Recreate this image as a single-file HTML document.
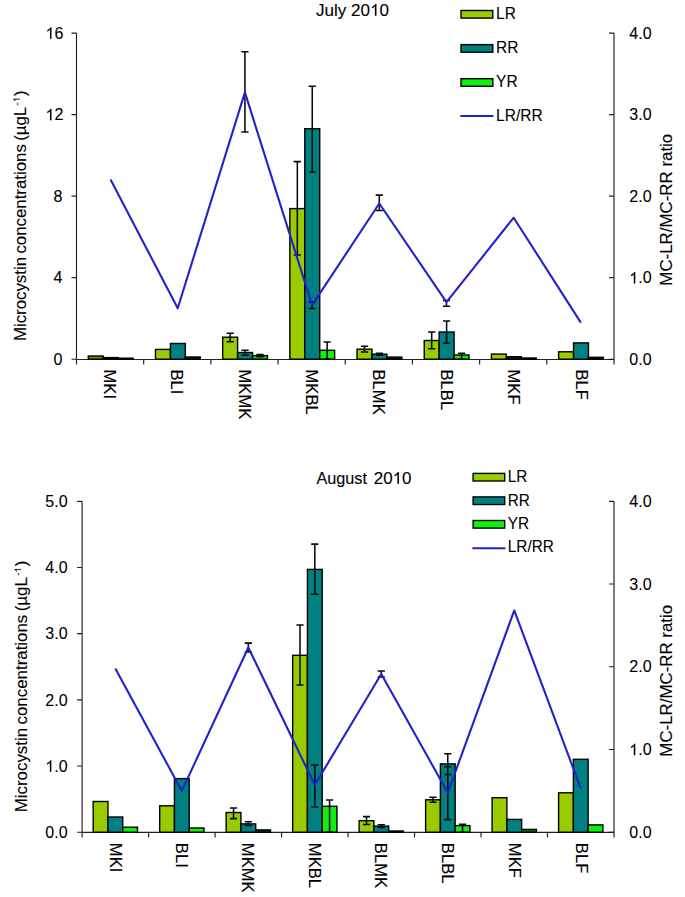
<!DOCTYPE html>
<html><head><meta charset="utf-8"><style>
html,body{margin:0;padding:0;background:#fff;}
svg{display:block;}
text{font-family:"Liberation Sans", sans-serif;fill:#000;stroke:#000;stroke-width:0.1px;}
.h{fill:none;stroke:none;}
.one{fill:#000;stroke:#000;}
</style></head><body>
<svg width="685" height="897" viewBox="0 0 685 897">
<rect width="685" height="897" fill="#fff"/>
<path d="M76.5 33.1V364.5M614 33.1V364.5M76.5 359.5H614" stroke="#222" stroke-width="1.15" fill="none"/>
<g transform="translate(62.3,364.9)"><text id="t0" x="0" y="0" font-size="16" text-anchor="end"><tspan>0</tspan></text></g>
<g transform="translate(62.3,283.38)"><text id="t1" x="0" y="0" font-size="16" text-anchor="end"><tspan>4</tspan></text></g>
<g transform="translate(62.3,201.85)"><text id="t2" x="0" y="0" font-size="16" text-anchor="end"><tspan>8</tspan></text></g>
<g transform="translate(63.3,120.33)"><text id="t3" x="0" y="0" font-size="16" text-anchor="end"><tspan><tspan class="h">1</tspan>2</tspan></text><path class="one" transform="translate(-17.8,0) scale(0.007812,-0.007812)" stroke-width="12.800" d="M763 0H583V1147Q518 1085 412.5 1023T223 930V1104Q375 1175 489 1276T650 1472H763V0Z"/></g>
<g transform="translate(63.3,38.8)"><text id="t4" x="0" y="0" font-size="16" text-anchor="end"><tspan><tspan class="h">1</tspan>6</tspan></text><path class="one" transform="translate(-17.8,0) scale(0.007812,-0.007812)" stroke-width="12.800" d="M763 0H583V1147Q518 1085 412.5 1023T223 930V1104Q375 1175 489 1276T650 1472H763V0Z"/></g>
<g transform="translate(629.3,364.9)"><text id="t5" x="0" y="0" font-size="16"><tspan>0.0</tspan></text></g>
<g transform="translate(629.3,283.38)"><text id="t6" x="0" y="0" font-size="16"><tspan><tspan class="h">1</tspan>.0</tspan></text><path class="one" transform="translate(0,0) scale(0.007812,-0.007812)" stroke-width="12.800" d="M763 0H583V1147Q518 1085 412.5 1023T223 930V1104Q375 1175 489 1276T650 1472H763V0Z"/></g>
<g transform="translate(629.3,201.85)"><text id="t7" x="0" y="0" font-size="16"><tspan>2.0</tspan></text></g>
<g transform="translate(629.3,120.33)"><text id="t8" x="0" y="0" font-size="16"><tspan>3.0</tspan></text></g>
<g transform="translate(629.3,38.8)"><text id="t9" x="0" y="0" font-size="16"><tspan>4.0</tspan></text></g>
<path d="M71.5 359.2H76.5M71.5 277.68H76.5M71.5 196.15H76.5M71.5 114.62H76.5M71.5 33.1H76.5M609 359.2H614M609 277.68H614M609 196.15H614M609 114.62H614M609 33.1H614M143.69 359.5V364.5M210.88 359.5V364.5M278.06 359.5V364.5M345.25 359.5V364.5M412.44 359.5V364.5M479.62 359.5V364.5M546.81 359.5V364.5" stroke="#222" stroke-width="1.15" fill="none"/>
<rect x="88.3" y="356" width="14.93" height="3.2" fill="#6b8e00" stroke="#000" stroke-width="1.4"/>
<rect x="103.23" y="357.6" width="14.93" height="1.6" fill="#000000" stroke="#000" stroke-width="1.4"/>
<rect x="118.16" y="358.2" width="14.93" height="1" fill="#000000" stroke="#000" stroke-width="1.4"/>
<rect x="155.49" y="349.4" width="14.93" height="9.8" fill="#99cc00" stroke="#000" stroke-width="1.4"/>
<rect x="170.42" y="343.5" width="14.93" height="15.7" fill="#008080" stroke="#000" stroke-width="1.4"/>
<rect x="185.35" y="357" width="14.93" height="2.2" fill="#032f03" stroke="#000" stroke-width="1.4"/>
<rect x="222.67" y="337.2" width="14.93" height="22" fill="#99cc00" stroke="#000" stroke-width="1.4"/>
<rect x="237.6" y="352.5" width="14.93" height="6.7" fill="#008080" stroke="#000" stroke-width="1.4"/>
<rect x="252.53" y="355.6" width="14.93" height="3.6" fill="#0ed70e" stroke="#000" stroke-width="1.4"/>
<rect x="289.86" y="208.6" width="14.93" height="150.6" fill="#99cc00" stroke="#000" stroke-width="1.4"/>
<rect x="304.79" y="128.7" width="14.93" height="230.5" fill="#008080" stroke="#000" stroke-width="1.4"/>
<rect x="319.72" y="350.3" width="14.93" height="8.9" fill="#10f010" stroke="#000" stroke-width="1.4"/>
<rect x="357.05" y="349.2" width="14.93" height="10" fill="#99cc00" stroke="#000" stroke-width="1.4"/>
<rect x="371.98" y="354.2" width="14.93" height="5" fill="#008080" stroke="#000" stroke-width="1.4"/>
<rect x="386.91" y="357.1" width="14.93" height="2.1" fill="#022302" stroke="#000" stroke-width="1.4"/>
<rect x="424.24" y="340.5" width="14.93" height="18.7" fill="#99cc00" stroke="#000" stroke-width="1.4"/>
<rect x="439.17" y="332" width="14.93" height="27.2" fill="#008080" stroke="#000" stroke-width="1.4"/>
<rect x="454.1" y="355" width="14.93" height="4.2" fill="#10f010" stroke="#000" stroke-width="1.4"/>
<rect x="491.42" y="354.1" width="14.93" height="5.1" fill="#99cc00" stroke="#000" stroke-width="1.4"/>
<rect x="506.35" y="356.7" width="14.93" height="2.5" fill="#002c2c" stroke="#000" stroke-width="1.4"/>
<rect x="521.28" y="358" width="14.93" height="1.2" fill="#000000" stroke="#000" stroke-width="1.4"/>
<rect x="558.61" y="351.8" width="14.93" height="7.4" fill="#99cc00" stroke="#000" stroke-width="1.4"/>
<rect x="573.54" y="342.9" width="14.93" height="16.3" fill="#008080" stroke="#000" stroke-width="1.4"/>
<rect x="588.47" y="357.3" width="14.93" height="1.9" fill="#000b00" stroke="#000" stroke-width="1.4"/>
<path d="M230.14 333.3V341.7M226.54 333.3H233.74M226.54 341.7H233.74M245.07 350.3V355.3M241.47 350.3H248.67M241.47 355.3H248.67M260 354.6V356.6M256.4 354.6H263.6M256.4 356.6H263.6M297.33 161.6V254.9M293.73 161.6H300.93M293.73 254.9H300.93M312.26 86.2V171.9M308.66 86.2H315.86M308.66 171.9H315.86M327.19 342V359M323.59 342H330.79M323.59 359H330.79M364.51 346.3V352M360.91 346.3H368.11M360.91 352H368.11M379.44 353.2V355.2M375.84 353.2H383.04M375.84 355.2H383.04M431.7 332V348.7M428.1 332H435.3M428.1 348.7H435.3M446.63 320.9V343.1M443.03 320.9H450.23M443.03 343.1H450.23M461.56 353.3V359.2M457.96 353.3H465.16M457.96 359.2H465.16M244.92 51.7V131.9M241.32 51.7H248.52M241.32 131.9H248.52M312.11 302V308.5M308.51 302H315.71M308.51 308.5H315.71M379.29 195.1V210.5M375.69 195.1H382.89M375.69 210.5H382.89M446.48 300.5V306.2M442.88 300.5H450.08M442.88 306.2H450.08" stroke="#0a0a0a" stroke-width="1.55" fill="none"/>
<polyline points="110.54,179.5 177.73,308.3 244.92,92.4 312.11,305.1 379.29,203.5 446.48,302.1 513.67,217.7 580.86,322.6" fill="none" stroke="#2222cc" stroke-width="2.1" stroke-linejoin="round"/>
<g transform="translate(103.89,369.5) rotate(90) scale(1.04,1)"><text id="t10" x="0" y="0" font-size="16"><tspan>MKI</tspan></text></g>
<g transform="translate(171.18,369.5) rotate(90) scale(1.04,1)"><text id="t11" x="0" y="0" font-size="16"><tspan>BLI</tspan></text></g>
<g transform="translate(238.57,369.5) rotate(90) scale(1.04,1)"><text id="t12" x="0" y="0" font-size="16"><tspan>MKMK</tspan></text></g>
<g transform="translate(305.96,369.5) rotate(90) scale(1.04,1)"><text id="t13" x="0" y="0" font-size="16"><tspan>MKBL</tspan></text></g>
<g transform="translate(373.34,369.5) rotate(90) scale(1.04,1)"><text id="t14" x="0" y="0" font-size="16"><tspan>BLMK</tspan></text></g>
<g transform="translate(440.73,369.5) rotate(90) scale(1.04,1)"><text id="t15" x="0" y="0" font-size="16"><tspan>BLBL</tspan></text></g>
<g transform="translate(508.12,369.5) rotate(90) scale(1.04,1)"><text id="t16" x="0" y="0" font-size="16"><tspan>MKF</tspan></text></g>
<g transform="translate(575.51,369.5) rotate(90) scale(1.04,1)"><text id="t17" x="0" y="0" font-size="16"><tspan>BLF</tspan></text></g>
<g transform="translate(316,15.8) scale(1.035,1)"><text id="t18" x="0" y="0" font-size="16.5"><tspan>July 20<tspan class="h">1</tspan>0</tspan></text><path class="one" transform="translate(52.23,0) scale(0.008057,-0.008057)" stroke-width="12.412" d="M763 0H583V1147Q518 1085 412.5 1023T223 930V1104Q375 1175 489 1276T650 1472H763V0Z"/></g>
<rect x="461" y="10.5" width="31.8" height="7.6" fill="#99cc00" stroke="#000" stroke-width="1.4"/>
<rect x="461" y="44.6" width="31.8" height="7.6" fill="#008080" stroke="#000" stroke-width="1.4"/>
<rect x="461" y="78.7" width="31.8" height="7.6" fill="#10f010" stroke="#000" stroke-width="1.4"/>
<path d="M460.3 116H493.5" stroke="#2222cc" stroke-width="2"/>
<g transform="translate(496.1,18.7) scale(0.94,1)"><text id="t19" x="0" y="0" font-size="16.5"><tspan>LR</tspan></text></g>
<g transform="translate(496.1,52.9) scale(0.94,1)"><text id="t20" x="0" y="0" font-size="16.5"><tspan>RR</tspan></text></g>
<g transform="translate(496.1,87) scale(0.94,1)"><text id="t21" x="0" y="0" font-size="16.5"><tspan>YR</tspan></text></g>
<g transform="translate(496.1,120.8) scale(0.94,1)"><text id="t22" x="0" y="0" font-size="16.5"><tspan>LR/RR</tspan></text></g>
<g transform="translate(25.9,341.05) rotate(-90) scale(1.0519,1)"><text id="t23" x="0" y="0" font-size="16"><tspan>Microcystin</tspan><tspan dx="-1.2"> concentrations</tspan><tspan dx="-1.2"> (µgL</tspan><tspan font-size="9" dy="-6.2" dx="1.2">-<tspan class="h">1</tspan></tspan><tspan dy="6.2" dx="1.0">)</tspan></text><path class="one" transform="translate(227.11,-6.2) scale(0.004395,-0.004395)" stroke-width="22.756" d="M763 0H583V1147Q518 1085 412.5 1023T223 930V1104Q375 1175 489 1276T650 1472H763V0Z"/></g>
<g transform="translate(671.6,285.64) rotate(-90) scale(1.0556,1)"><text id="t24" x="0" y="0" font-size="16"><tspan>MC-LR/MC-RR ratio</tspan></text></g>
<path d="M82.1 501.3V837.4M614 501.3V837.4M82.1 832.4H614" stroke="#222" stroke-width="1.15" fill="none"/>
<g transform="translate(67.6,837.9)"><text id="t25" x="0" y="0" font-size="16" text-anchor="end"><tspan>0.0</tspan></text></g>
<g transform="translate(67.6,771.72)"><text id="t26" x="0" y="0" font-size="16" text-anchor="end"><tspan><tspan class="h">1</tspan>.0</tspan></text><path class="one" transform="translate(-22.25,0) scale(0.007812,-0.007812)" stroke-width="12.800" d="M763 0H583V1147Q518 1085 412.5 1023T223 930V1104Q375 1175 489 1276T650 1472H763V0Z"/></g>
<g transform="translate(67.6,705.54)"><text id="t27" x="0" y="0" font-size="16" text-anchor="end"><tspan>2.0</tspan></text></g>
<g transform="translate(67.6,639.36)"><text id="t28" x="0" y="0" font-size="16" text-anchor="end"><tspan>3.0</tspan></text></g>
<g transform="translate(67.6,573.18)"><text id="t29" x="0" y="0" font-size="16" text-anchor="end"><tspan>4.0</tspan></text></g>
<g transform="translate(67.6,507)"><text id="t30" x="0" y="0" font-size="16" text-anchor="end"><tspan>5.0</tspan></text></g>
<g transform="translate(629.3,837.9)"><text id="t31" x="0" y="0" font-size="16"><tspan>0.0</tspan></text></g>
<g transform="translate(629.3,755.18)"><text id="t32" x="0" y="0" font-size="16"><tspan><tspan class="h">1</tspan>.0</tspan></text><path class="one" transform="translate(0,0) scale(0.007812,-0.007812)" stroke-width="12.800" d="M763 0H583V1147Q518 1085 412.5 1023T223 930V1104Q375 1175 489 1276T650 1472H763V0Z"/></g>
<g transform="translate(629.3,672.45)"><text id="t33" x="0" y="0" font-size="16"><tspan>2.0</tspan></text></g>
<g transform="translate(629.3,589.73)"><text id="t34" x="0" y="0" font-size="16"><tspan>3.0</tspan></text></g>
<g transform="translate(629.3,507)"><text id="t35" x="0" y="0" font-size="16"><tspan>4.0</tspan></text></g>
<path d="M77.1 832.2H82.1M77.1 766.02H82.1M77.1 699.84H82.1M77.1 633.66H82.1M77.1 567.48H82.1M77.1 501.3H82.1M609 832.2H614M609 749.48H614M609 666.75H614M609 584.03H614M609 501.3H614M148.59 832.4V837.4M215.07 832.4V837.4M281.56 832.4V837.4M348.05 832.4V837.4M414.54 832.4V837.4M481.02 832.4V837.4M547.51 832.4V837.4" stroke="#222" stroke-width="1.15" fill="none"/>
<rect x="93.18" y="801.5" width="14.77" height="30.7" fill="#99cc00" stroke="#000" stroke-width="1.4"/>
<rect x="107.96" y="817" width="14.77" height="15.2" fill="#008080" stroke="#000" stroke-width="1.4"/>
<rect x="122.73" y="827.2" width="14.77" height="5" fill="#10f010" stroke="#000" stroke-width="1.4"/>
<rect x="159.67" y="805.8" width="14.77" height="26.4" fill="#99cc00" stroke="#000" stroke-width="1.4"/>
<rect x="174.44" y="778.6" width="14.77" height="53.6" fill="#008080" stroke="#000" stroke-width="1.4"/>
<rect x="189.22" y="828" width="14.77" height="4.2" fill="#10f010" stroke="#000" stroke-width="1.4"/>
<rect x="226.16" y="812.5" width="14.77" height="19.7" fill="#99cc00" stroke="#000" stroke-width="1.4"/>
<rect x="240.93" y="823.9" width="14.77" height="8.3" fill="#008080" stroke="#000" stroke-width="1.4"/>
<rect x="255.71" y="829.9" width="14.77" height="2.3" fill="#043c04" stroke="#000" stroke-width="1.4"/>
<rect x="292.64" y="655.3" width="14.77" height="176.9" fill="#99cc00" stroke="#000" stroke-width="1.4"/>
<rect x="307.42" y="569.4" width="14.77" height="262.8" fill="#008080" stroke="#000" stroke-width="1.4"/>
<rect x="322.19" y="806.3" width="14.77" height="25.9" fill="#10f010" stroke="#000" stroke-width="1.4"/>
<rect x="359.13" y="820.7" width="14.77" height="11.5" fill="#99cc00" stroke="#000" stroke-width="1.4"/>
<rect x="373.91" y="826.1" width="14.77" height="6.1" fill="#008080" stroke="#000" stroke-width="1.4"/>
<rect x="388.68" y="831" width="14.77" height="1.2" fill="#000000" stroke="#000" stroke-width="1.4"/>
<rect x="425.62" y="799.8" width="14.77" height="32.4" fill="#99cc00" stroke="#000" stroke-width="1.4"/>
<rect x="440.39" y="763.9" width="14.77" height="68.3" fill="#008080" stroke="#000" stroke-width="1.4"/>
<rect x="455.17" y="825.6" width="14.77" height="6.6" fill="#10f010" stroke="#000" stroke-width="1.4"/>
<rect x="492.11" y="797.7" width="14.77" height="34.5" fill="#99cc00" stroke="#000" stroke-width="1.4"/>
<rect x="506.88" y="819.4" width="14.77" height="12.8" fill="#008080" stroke="#000" stroke-width="1.4"/>
<rect x="521.66" y="829.4" width="14.77" height="2.8" fill="#087808" stroke="#000" stroke-width="1.4"/>
<rect x="558.59" y="792.8" width="14.77" height="39.4" fill="#99cc00" stroke="#000" stroke-width="1.4"/>
<rect x="573.37" y="759.3" width="14.77" height="72.9" fill="#008080" stroke="#000" stroke-width="1.4"/>
<rect x="588.14" y="824.9" width="14.77" height="7.3" fill="#10f010" stroke="#000" stroke-width="1.4"/>
<path d="M233.54 807.9V818.6M229.94 807.9H237.14M229.94 818.6H237.14M248.32 821.7V825.5M244.72 821.7H251.92M244.72 825.5H251.92M300.03 624.9V685M296.43 624.9H303.63M296.43 685H303.63M314.81 544.1V594.2M311.21 544.1H318.41M311.21 594.2H318.41M329.58 799.9V832M325.98 799.9H333.18M325.98 832H333.18M366.52 816.6V824.5M362.92 816.6H370.12M362.92 824.5H370.12M381.29 824.8V827.5M377.69 824.8H384.89M377.69 827.5H384.89M433.01 797.3V802.2M429.41 797.3H436.61M429.41 802.2H436.61M447.78 753.7V774.5M444.18 753.7H451.38M444.18 774.5H451.38M462.56 824.3V832.2M458.96 824.3H466.16M458.96 832.2H466.16M248.32 643.1V651.9M244.72 643.1H251.92M244.72 651.9H251.92M314.81 765V807M311.21 765H318.41M311.21 807H318.41M381.29 671V677M377.69 671H384.89M377.69 677H384.89M447.78 766.8V819.6M444.18 766.8H451.38M444.18 819.6H451.38" stroke="#0a0a0a" stroke-width="1.55" fill="none"/>
<polyline points="115.34,668.6 181.83,790.9 248.32,647.5 314.81,785 381.29,674 447.78,792.7 514.27,610.4 580.76,788.5" fill="none" stroke="#2222cc" stroke-width="2.1" stroke-linejoin="round"/>
<g transform="translate(110.34,842.8) rotate(90) scale(1.04,1)"><text id="t36" x="0" y="0" font-size="16"><tspan>MKI</tspan></text></g>
<g transform="translate(175.93,842.8) rotate(90) scale(1.04,1)"><text id="t37" x="0" y="0" font-size="16"><tspan>BLI</tspan></text></g>
<g transform="translate(242.42,842.8) rotate(90) scale(1.04,1)"><text id="t38" x="0" y="0" font-size="16"><tspan>MKMK</tspan></text></g>
<g transform="translate(308.91,842.8) rotate(90) scale(1.04,1)"><text id="t39" x="0" y="0" font-size="16"><tspan>MKBL</tspan></text></g>
<g transform="translate(375.29,842.8) rotate(90) scale(1.04,1)"><text id="t40" x="0" y="0" font-size="16"><tspan>BLMK</tspan></text></g>
<g transform="translate(442.18,842.8) rotate(90) scale(1.04,1)"><text id="t41" x="0" y="0" font-size="16"><tspan>BLBL</tspan></text></g>
<g transform="translate(509.47,842.8) rotate(90) scale(1.04,1)"><text id="t42" x="0" y="0" font-size="16"><tspan>MKF</tspan></text></g>
<g transform="translate(576.46,842.8) rotate(90) scale(1.04,1)"><text id="t43" x="0" y="0" font-size="16"><tspan>BLF</tspan></text></g>
<g transform="translate(316.4,483.8) scale(0.985,1)"><text id="t44" x="0" y="0" font-size="16.5"><tspan>August</tspan></text></g>
<g transform="translate(373.7,483.8) scale(1.03,1)"><text id="t45" x="0" y="0" font-size="16.5"><tspan>20<tspan class="h">1</tspan>0</tspan></text><path class="one" transform="translate(18.33,0) scale(0.008057,-0.008057)" stroke-width="12.412" d="M763 0H583V1147Q518 1085 412.5 1023T223 930V1104Q375 1175 489 1276T650 1472H763V0Z"/></g>
<rect x="473.1" y="473.4" width="31.6" height="7.6" fill="#99cc00" stroke="#000" stroke-width="1.4"/>
<rect x="473.1" y="496.9" width="31.6" height="7.6" fill="#008080" stroke="#000" stroke-width="1.4"/>
<rect x="473.1" y="520.5" width="31.6" height="7.6" fill="#10f010" stroke="#000" stroke-width="1.4"/>
<path d="M472.4 548.2H505.4" stroke="#2222cc" stroke-width="2"/>
<g transform="translate(507.8,481.6) scale(0.93,1)"><text id="t46" x="0" y="0" font-size="16.5"><tspan>LR</tspan></text></g>
<g transform="translate(507.8,505.6) scale(0.93,1)"><text id="t47" x="0" y="0" font-size="16.5"><tspan>RR</tspan></text></g>
<g transform="translate(507.8,528.7) scale(0.93,1)"><text id="t48" x="0" y="0" font-size="16.5"><tspan>YR</tspan></text></g>
<g transform="translate(507.8,552.1) scale(0.93,1)"><text id="t49" x="0" y="0" font-size="16.5"><tspan>LR/RR</tspan></text></g>
<g transform="translate(27.2,812.29) rotate(-90) scale(1.0559,1)"><text id="t50" x="0" y="0" font-size="16"><tspan>Microcystin</tspan><tspan dx="-1.2"> concentrations</tspan><tspan dx="-1.2"> (µgL</tspan><tspan font-size="9" dy="-6.2" dx="1.2">-<tspan class="h">1</tspan></tspan><tspan dy="6.2" dx="1.0">)</tspan></text><path class="one" transform="translate(227.11,-6.2) scale(0.004395,-0.004395)" stroke-width="22.756" d="M763 0H583V1147Q518 1085 412.5 1023T223 930V1104Q375 1175 489 1276T650 1472H763V0Z"/></g>
<g transform="translate(671.6,756.67) rotate(-90) scale(1.0549,1)"><text id="t51" x="0" y="0" font-size="16"><tspan>MC-LR/MC-RR ratio</tspan></text></g>
</svg>
</body></html>
